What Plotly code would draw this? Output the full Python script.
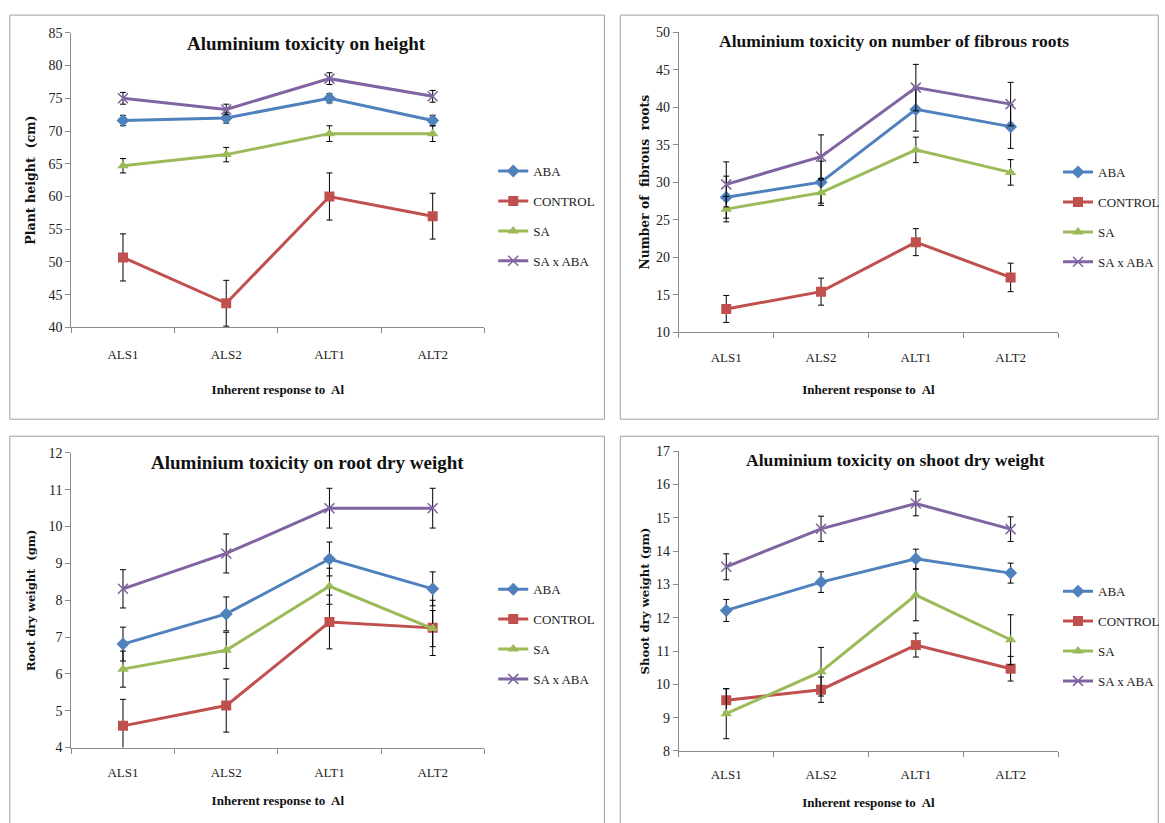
import plotly.graph_objects as go

W = 1165
H = 845
# measured page -> screenshot mapping: shot_x = SX*page_x + OX ; shot_y = SY*page_y + OY
SX, OX = 0.991, -0.9
SY, OY = 0.982, 6.9

categories = ["ALS1", "ALS2", "ALT1", "ALT2"]
series_names = ["ABA", "CONTROL", "SA", "SA x ABA"]

# Panel 1: plant height (cm)
height_aba = [71.6, 72.0, 75.0, 71.6]
height_aba_err = [0.8, 0.8, 0.7, 0.8]
height_control = [50.7, 43.7, 60.0, 57.0]
height_control_err = [3.6, 3.5, 3.6, 3.5]
height_sa = [64.7, 66.4, 69.6, 69.6]
height_sa_err = [1.1, 1.1, 1.2, 1.2]
height_saxaba = [75.0, 73.3, 78.0, 75.3]
height_saxaba_err = [0.9, 0.8, 0.9, 0.9]

# Panel 2: number of fibrous roots
roots_aba = [28.0, 30.0, 39.7, 37.4]
roots_aba_err = [2.8, 2.8, 2.9, 2.9]
roots_control = [13.1, 15.4, 22.0, 17.3]
roots_control_err = [1.8, 1.8, 1.8, 1.9]
roots_sa = [26.4, 28.6, 34.3, 31.3]
roots_sa_err = [1.7, 1.7, 1.7, 1.7]
roots_saxaba = [29.7, 33.4, 42.6, 40.4]
roots_saxaba_err = [3.0, 2.9, 3.1, 2.9]

# Panel 3: root dry weight (gm)
rdw_aba = [6.81, 7.63, 9.12, 8.31]
rdw_aba_err = [0.46, 0.46, 0.46, 0.46]
rdw_control = [4.59, 5.14, 7.41, 7.25]
rdw_control_err = [0.72, 0.72, 0.73, 0.75]
rdw_sa = [6.13, 6.64, 8.38, 7.23]
rdw_sa_err = [0.49, 0.49, 0.49, 0.49]
rdw_saxaba = [8.31, 9.27, 10.50, 10.50]
rdw_saxaba_err = [0.52, 0.53, 0.54, 0.54]

# Panel 4: shoot dry weight (gm)
sdw_aba = [12.22, 13.07, 13.77, 13.34]
sdw_aba_err = [0.33, 0.31, 0.29, 0.30]
sdw_control = [9.52, 9.84, 11.18, 10.47]
sdw_control_err = [0.35, 0.38, 0.36, 0.37]
sdw_sa = [9.12, 10.38, 12.68, 11.34]
sdw_sa_err = [0.75, 0.73, 0.77, 0.75]
sdw_saxaba = [13.53, 14.67, 15.43, 14.66]
sdw_saxaba_err = [0.39, 0.38, 0.37, 0.37]

titles = ["Aluminium toxicity on height",
          "Aluminium toxicity on number of fibrous roots",
          "Aluminium toxicity on root dry weight",
          "Aluminium toxicity on shoot dry weight"]
ytitles = ["Plant height  (cm)", "Number of  fibrous  roots",
           "Root dry weight  (gm)", "Shoot dry weight (gm)"]
xtitle = "Inherent response to  Al"
yranges = [(40, 85), (10, 50), (4, 12), (8, 17)]
ydticks = [5, 5, 1, 1]

colors = ["#4F81BD", "#C0504D", "#9BBB59", "#8064A2"]
symbols = ["diamond", "square", "triangle-up", "x-thin"]
msizes = [10, 10, 10, 10]

panels = [
    [(height_aba, height_aba_err), (height_control, height_control_err),
     (height_sa, height_sa_err), (height_saxaba, height_saxaba_err)],
    [(roots_aba, roots_aba_err), (roots_control, roots_control_err),
     (roots_sa, roots_sa_err), (roots_saxaba, roots_saxaba_err)],
    [(rdw_aba, rdw_aba_err), (rdw_control, rdw_control_err),
     (rdw_sa, rdw_sa_err), (rdw_saxaba, rdw_saxaba_err)],
    [(sdw_aba, sdw_aba_err), (sdw_control, sdw_control_err),
     (sdw_sa, sdw_sa_err), (sdw_saxaba, sdw_saxaba_err)],
]

# target screen positions (pixels) -> paper coordinates
def px(x):
    return ((x - OX) / SX) / W

def py(y):
    return 1 - ((y - OY) / SY) / H

# plot-area boxes in screen pixels: (x0, x1, ytop, ybottom)
boxes = [(71, 487, 32.7, 327.3), (683, 1065, 32, 332),
         (71, 487, 452.7, 747.3), (683, 1065, 451, 750.7)]
# outer panel frames in screen pixels
frames = [(9, 608, 15, 419), (624, 1166, 15, 419),
          (9, 608, 436, 830), (624, 1166, 436, 830)]
title_pos = [(308, 43), (900, 41), (309, 462), (901, 460)]
title_size = [19, 17.5, 19, 17.6]
legend_pos = [(496, 156), (1065, 157), (496, 574), (1065, 576)]
tick_standoff = [15, 13, 13, 11]
xtitle_standoff = [23, 21, 16, 17]
ytitle_standoff = [10, 3, 10, 3]
ytitle_size = [12.6, 12.3, 11.5, 11.7]

serif = "Liberation Serif"
fig = go.Figure()

for p in range(4):
    ax = "" if p == 0 else str(p + 1)
    leg = "legend" if p == 0 else "legend" + str(p + 1)
    for s in range(4):
        vals, errs = panels[p][s]
        is_x = symbols[s] == "x-thin"
        fig.add_trace(go.Scatter(
            x=categories, y=vals, name=series_names[s],
            mode="lines+markers",
            line=dict(color=colors[s], width=3),
            marker=dict(symbol=symbols[s], size=msizes[s], color=colors[s],
                        line=dict(color=colors[s], width=1.5 if is_x else 0)),
            error_y=dict(type="data", array=errs, visible=True,
                         color="black", thickness=1, width=3),
            xaxis="x" + ax, yaxis="y" + ax,
            legend=leg, legendgroup=f"g{p}_{s}",
        ))

layout = dict(
    width=W, height=H, margin=dict(l=0, r=0, t=0, b=0),
    paper_bgcolor="white", plot_bgcolor="white", showlegend=True,
    font=dict(family=serif, size=13, color="#222"),
)

shapes = []
annotations = []
for p in range(4):
    x0, x1, yt, yb = boxes[p]
    ax = "" if p == 0 else str(p + 1)
    layout["xaxis" + ax] = dict(
        domain=[px(x0), px(x1)], anchor="y" + ax,
        type="category", range=[-0.5, 3.5],
        showline=True, linecolor="#8a8a8a", linewidth=1,
        ticks="outside", tickson="boundaries", ticklen=5, tickcolor="#8a8a8a",
        showgrid=False, zeroline=False, ticklabelstandoff=tick_standoff[p],
        tickfont=dict(family=serif, size=13, color="#222"),
        title=dict(text="<b>" + xtitle + "</b>", standoff=xtitle_standoff[p],
                   font=dict(family=serif, size=13, color="#111")),
    )
    r0, r1 = yranges[p]
    layout["yaxis" + ax] = dict(
        domain=[py(yb), py(yt)], anchor="x" + ax,
        range=[r0, r1], dtick=ydticks[p], tick0=r0,
        showline=True, linecolor="#8a8a8a", linewidth=1,
        ticks="outside", ticklen=5, tickcolor="#8a8a8a",
        showgrid=False, zeroline=False,
        tickfont=dict(family=serif, size=14, color="#222"),
        title=dict(text="<b>" + ytitles[p] + "</b>", standoff=ytitle_standoff[p],
                   font=dict(family="DejaVu Serif", size=ytitle_size[p], color="#111")),
    )
    lx, ly = legend_pos[p]
    leg = "legend" if p == 0 else "legend" + str(p + 1)
    layout[leg] = dict(
        x=px(lx), y=py(ly), xanchor="left", yanchor="top",
        bgcolor="rgba(0,0,0,0)", tracegroupgap=10, itemwidth=30,
        font=dict(family=serif, size=13, color="#222"),
    )
    fx0, fx1, fy0, fy1 = frames[p]
    shapes.append(dict(type="rect", xref="paper", yref="paper",
                       x0=px(fx0), x1=px(fx1), y0=py(fy1), y1=py(fy0),
                       line=dict(color="#a0a0a0", width=1), layer="below"))
    tx, ty = title_pos[p]
    annotations.append(dict(text="<b>" + titles[p] + "</b>", xref="paper", yref="paper",
                            x=px(tx), y=py(ty), xanchor="center", yanchor="middle",
                            showarrow=False,
                            font=dict(family=serif, size=title_size[p], color="#111")))

layout["shapes"] = shapes
layout["annotations"] = annotations
fig.update_layout(**layout)
fig.write_html("out.html", config={"displayModeBar": False},
               post_script="document.body.style.margin='0';document.body.style.overflow='hidden';")
